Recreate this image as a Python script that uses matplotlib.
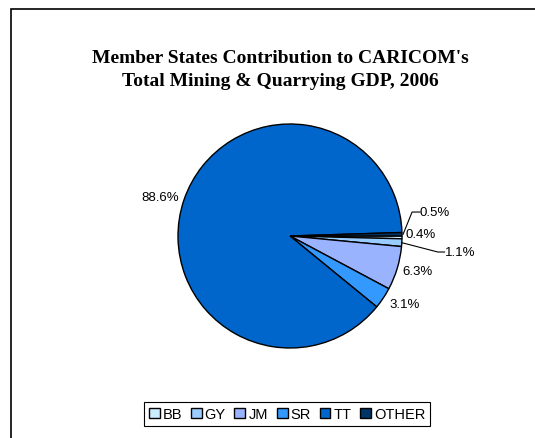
import numpy as np
import matplotlib.pyplot as plt
from matplotlib.patches import Rectangle

# data
countries = ['BB', 'GY', 'JM', 'SR', 'TT', 'OTHER']
shares = [0.4, 1.1, 6.3, 3.1, 88.6, 0.5]
colors = ['#CCECFF', '#99CCFF', '#99B3FF', '#3399FF', '#0066CC', '#003366']
labels = ['0.4%', '1.1%', '6.3%', '3.1%', '88.6%', '0.5%']

W, H = 535, 439
fig = plt.figure(figsize=(W / 100, H / 100), dpi=100)

# outer frame (runs off the right and bottom edge like the source)
fig.patches.append(Rectangle((11 / W, -0.1), 1.2, 1 - 10 / H + 0.1,
                             transform=fig.transFigure, fill=False,
                             edgecolor='black', linewidth=1.2, zorder=0))

fig.text(280 / W, 1 - 70 / H,
         "Member States Contribution to CARICOM's\nTotal Mining & Quarrying GDP, 2006",
         ha='center', va='center', fontsize=14, fontweight='bold',
         family='Liberation Serif', linespacing=1.45)

# pie axes: centre (290, 237) px, radius 112 px
R = 112
s = 2.0
side = 2 * s * R
ax = fig.add_axes([(290 - side / 2) / W, (H - 237 - side / 2) / H, side / W, side / H])
wedges, _ = ax.pie(shares, colors=colors, startangle=0, counterclock=False,
                   wedgeprops=dict(edgecolor='black', linewidth=1.0))
ax.set_xlim(-s, s)
ax.set_ylim(-s, s)
ax.set_aspect('equal')
ax.axis('off')

# label placement (data units), leaders for the thin slices
text_pos = {
    '0.4%': (1.17, 0.02),
    '1.1%': (1.52, -0.143),
    '6.3%': (1.14, -0.31),
    '3.1%': (1.02, -0.61),
    '88.6%': (-1.16, 0.35),
    '0.5%': (1.29, 0.214),
}
for w, lab in zip(wedges, labels):
    tx, ty = text_pos[lab]
    ang = np.deg2rad((w.theta1 + w.theta2) / 2)
    if lab == '1.1%':
        ax.plot([np.cos(ang), 1.32, 1.38], [np.sin(ang), ty, ty],
                color='black', linewidth=0.8)
    if lab == '0.5%':
        ax.plot([np.cos(ang) + 0.01, 1.09, 1.16], [np.sin(ang), ty, ty],
                color='black', linewidth=0.8)
    ax.text(tx, ty, lab, ha='center', va='center', fontsize=9.5,
            family='Liberation Sans')

leg = fig.legend(wedges, countries, loc='center', ncol=6,
                 bbox_to_anchor=(287 / W, 1 - 415 / H),
                 prop=dict(family='Liberation Sans', size=10.5),
                 handlelength=0.75, handleheight=0.75, handletextpad=0.2,
                 columnspacing=0.6, borderpad=0.35, fancybox=False,
                 edgecolor='black', framealpha=1)
leg.get_frame().set_linewidth(0.8)

fig.savefig('out.png', dpi=100)
